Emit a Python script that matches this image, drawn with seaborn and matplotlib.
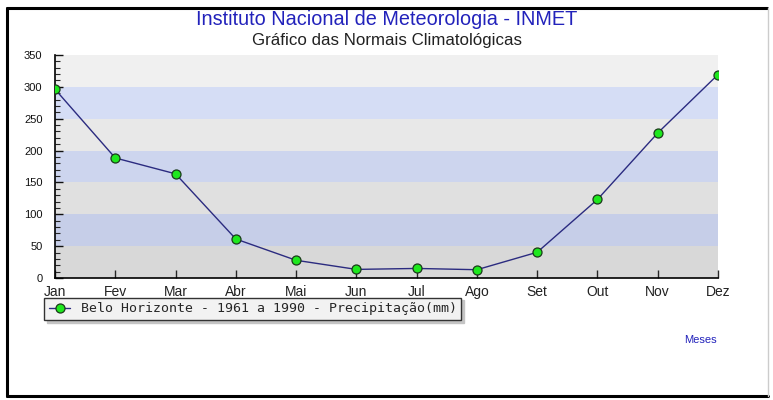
import pandas as pd
import matplotlib.pyplot as plt
import seaborn as sns
from matplotlib.lines import Line2D
from matplotlib.ticker import MultipleLocator

# dados: normais climatológicas de Belo Horizonte (1961-1990)
meses = ['Jan', 'Fev', 'Mar', 'Abr', 'Mai', 'Jun', 'Jul', 'Ago', 'Set', 'Out', 'Nov', 'Dez']
precipitacao = [296.3, 188.4, 163.5, 61.2, 27.8, 13.5, 15.0, 13.0, 40.4, 123.3, 227.6, 319.3]
serie = 'Belo Horizonte - 1961 a 1990 - Precipitação(mm)'

df = pd.DataFrame({'idx': range(len(meses)), 'mes': meses, 'valor': precipitacao})

sns.set_style('white')
plt.rcParams['font.family'] = ['Liberation Sans', 'DejaVu Sans']

fig = plt.figure(figsize=(7.73, 4.0), dpi=100)
fig.patch.set_facecolor('white')
ax = fig.add_axes([55 / 773, 1 - 278 / 400, 663 / 773, 223 / 400])

# faixas alternadas do fundo
faixas = ['#d8d8d8', '#c6cee8', '#e0e0e0', '#cdd5ee', '#e8e8e8', '#d5ddf5', '#f0f0f0']
for i, cor in enumerate(faixas):
    ax.axhspan(i * 50, (i + 1) * 50, color=cor, zorder=0, lw=0)

sns.lineplot(data=df, x='idx', y='valor', ax=ax, color='#2b2b80', linewidth=1.0,
             marker='o', markersize=6.5, markerfacecolor='#1ee81e',
             markeredgecolor='#1a3a1a', markeredgewidth=0.9, label=serie, zorder=3)

ax.set_xlim(0, 11)
ax.set_ylim(0, 350)
ax.set_xticks(df['idx'])
ax.set_xticklabels(meses, fontsize=10, color='#222222')
ax.yaxis.set_major_locator(MultipleLocator(50))
ax.yaxis.set_minor_locator(MultipleLocator(10))
ax.tick_params(axis='y', which='major', direction='in', length=6, width=1, labelsize=8,
               left=True, pad=9, colors='#111111')
ax.tick_params(axis='y', which='minor', direction='in', length=3.5, width=0.8, left=True)
ax.tick_params(axis='x', which='major', direction='in', length=6, width=1, bottom=True, pad=5)
ax.set_xlabel('')
ax.set_ylabel('')

for s in ['top', 'right']:
    ax.spines[s].set_visible(False)
for s in ['left', 'bottom']:
    ax.spines[s].set_color('black')
    ax.spines[s].set_linewidth(1.2)

leg = ax.legend(loc='upper left', bbox_to_anchor=(-0.016, -0.088), frameon=True,
                fancybox=False, shadow={'color': '#c4c4c4', 'alpha': 1},
                borderaxespad=0,
                prop={'family': 'DejaVu Sans Mono', 'size': 9.5},
                handlelength=1.6, handletextpad=0.8, borderpad=0.35)
leg.get_frame().set_edgecolor('#333333')
leg.get_frame().set_facecolor('#f2f2f2')
leg.get_frame().set_linewidth(1.0)

# títulos
fig.text(0.5, 1 - 25 / 400, 'Instituto Nacional de Meteorologia - INMET', ha='center',
         va='baseline', fontsize=14.3, color='#2222bb')
fig.text(0.5, 1 - 45.5 / 400, 'Gráfico das Normais Climatológicas', ha='center',
         va='baseline', fontsize=12.2, color='#222222')
fig.text(700 / 773, 1 - 340 / 400, 'Meses', ha='center', va='center', fontsize=8,
         color='#2222bb')

# moldura externa
fig.add_artist(Line2D([7 / 773, 767 / 773], [1 - 8 / 400] * 2, color='black', lw=2.2))
fig.add_artist(Line2D([7 / 773] * 2, [1 - 8 / 400, 1 - 396 / 400], color='black', lw=2.2))
fig.add_artist(Line2D([7 / 773, 768 / 773], [1 - 396 / 400] * 2, color='black', lw=2.2))
fig.add_artist(Line2D([768 / 773] * 2, [1 - 8 / 400, 1 - 396 / 400], color='#cccccc', lw=1))

plt.savefig('out.png', dpi=100)
